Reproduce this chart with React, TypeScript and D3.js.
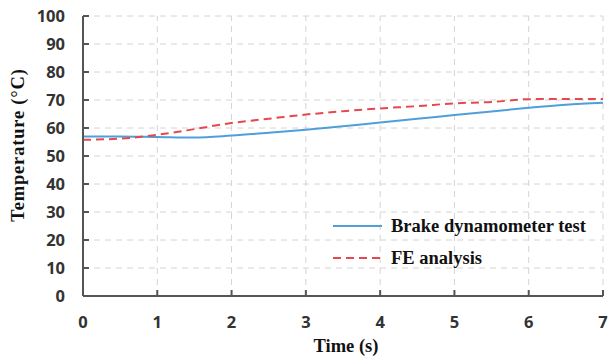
import React from "react";
import * as d3 from "d3";

const times = [0, 0.5, 1, 1.5, 2, 2.5, 3, 3.5, 4, 4.5, 5, 5.5, 6, 6.5, 7];
const dynoTemps = [57, 57, 56.8, 56.6, 57.3, 58.3, 59.4, 60.6, 62, 63.3, 64.6, 65.9, 67.2, 68.3, 69];
const feTemps = [55.8, 56.2, 57.6, 59.6, 61.8, 63.3, 64.8, 66, 67, 67.8, 68.8, 69.3, 70.3, 70.4, 70.4];
const xTicks = [0, 1, 2, 3, 4, 5, 6, 7];
const yTicks = [0, 10, 20, 30, 40, 50, 60, 70, 80, 90, 100];
const seriesNames = ["Brake dynamometer test", "FE analysis"];

const width = 609;
const height = 359;
const margin = { left: 83, right: 6, top: 16, bottom: 63 };

const App = () => {
    const x = d3.scaleLinear().domain([0, 7]).range([margin.left, width - margin.right]);
    const y = d3.scaleLinear().domain([0, 100]).range([height - margin.bottom, margin.top]);

    const line = d3
        .line<number>()
        .x((d, i) => x(times[i]))
        .y(d => y(d))
        .curve(d3.curveMonotoneX);

    const tickFont = "'Open Sans', 'Liberation Sans', Arial, sans-serif";
    const titleFont = "'Liberation Serif', 'Times New Roman', serif";

    return (
        <svg
            width={width}
            height={height}
            style={{ position: "absolute", left: 0, top: 0 }}
        >
            <rect width={width} height={height} fill="#fff" />
            {/* grid */}
            {yTicks.slice(1).map(t => (
                <line key={"gy" + t} x1={x(0)} x2={x(7)} y1={y(t)} y2={y(t)}
                    stroke="#d4d4d4" strokeWidth={1} strokeDasharray="6,5" />
            ))}
            {xTicks.slice(1).map(t => (
                <line key={"gx" + t} x1={x(t)} x2={x(t)} y1={y(0)} y2={y(100)}
                    stroke="#d4d4d4" strokeWidth={1} strokeDasharray="6,5" />
            ))}

            {/* series */}
            <path d={line(dynoTemps) || ""} fill="none" stroke="#4f9fdb" strokeWidth={2} />
            <path d={line(feTemps) || ""} fill="none" stroke="#e5484d" strokeWidth={2} strokeDasharray="8,5" />

            {/* axes */}
            <line x1={x(0)} x2={x(0)} y1={y(0)} y2={y(100)} stroke="#555" strokeWidth={2} />
            <line x1={x(0)} x2={x(7)} y1={y(0)} y2={y(0)} stroke="#555" strokeWidth={2} />
            {yTicks.map(t => (
                <g key={"ty" + t}>
                    <line x1={x(0)} x2={x(0) + 6} y1={y(t)} y2={y(t)} stroke="#555" strokeWidth={2} />
                    <text x={65} y={y(t)} dy="0.36em" textAnchor="end"
                        fontFamily={tickFont} fontWeight="bold" fontSize={16.5} fill="#333">
                        {t}
                    </text>
                </g>
            ))}
            {xTicks.map(t => (
                <g key={"tx" + t}>
                    <line x1={x(t)} x2={x(t)} y1={y(0)} y2={y(0) - 6} stroke="#555" strokeWidth={2} />
                    <text x={x(t)} y={328} textAnchor="middle"
                        fontFamily={tickFont} fontWeight="bold" fontSize={16.5} fill="#333">
                        {t}
                    </text>
                </g>
            ))}

            {/* titles */}
            <text x={346} y={352} textAnchor="middle" fontFamily={titleFont}
                fontWeight="bold" fontSize={18.5} fill="#111">
                Time (s)
            </text>
            <text transform={`translate(24 ${145}) rotate(-90)`} textAnchor="middle"
                fontFamily={titleFont} fontWeight="bold" fontSize={18.5} fill="#111"
                letterSpacing={0.8}>
                Temperature (°C)
            </text>

            {/* legend */}
            <line x1={333} x2={382} y1={226} y2={226} stroke="#4f9fdb" strokeWidth={2} />
            <text x={391} y={232} fontFamily={titleFont} fontWeight="bold" fontSize={18.5} fill="#111">
                {seriesNames[0]}
            </text>
            <line x1={333} x2={382} y1={258} y2={258} stroke="#e5484d" strokeWidth={2} strokeDasharray="8,5" />
            <text x={391} y={264} fontFamily={titleFont} fontWeight="bold" fontSize={18.5} fill="#111">
                {seriesNames[1]}
            </text>
        </svg>
    );
};

export default App;
